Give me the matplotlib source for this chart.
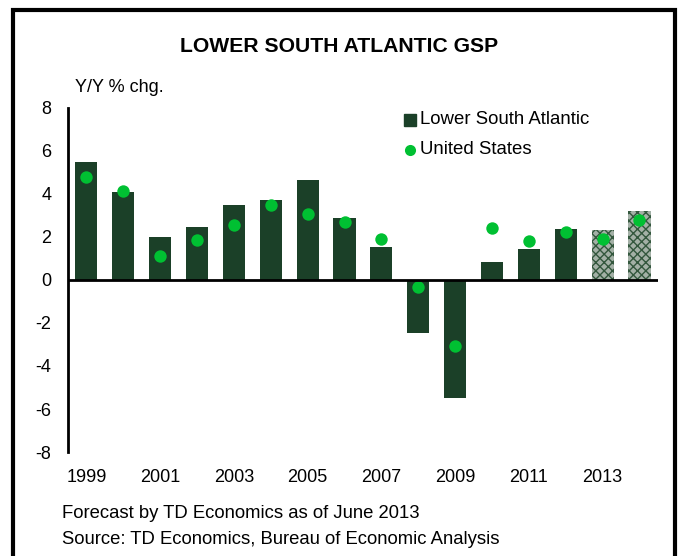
import matplotlib
matplotlib.use("Agg")
import matplotlib.pyplot as plt
from matplotlib.patches import Rectangle

plt.rcParams['font.family'] = ['Liberation Sans', 'DejaVu Sans']
plt.rcParams['axes.unicode_minus'] = False

# Données
annees = list(range(1999, 2015))
lower_south_atlantic = [5.5, 4.1, 2.0, 2.45, 3.5, 3.7, 4.65, 2.9, 1.55, -2.45, -5.5, 0.85, 1.45, 2.35, 2.3, 3.2]
etats_unis = [4.8, 4.15, 1.1, 1.85, 2.55, 3.5, 3.05, 2.7, 1.9, -0.35, -3.05, 2.4, 1.8, 2.25, 1.9, 2.8]
prevision = [False] * 14 + [True, True]
etiquettes_x = [str(a) if a % 2 == 1 else "" for a in annees]

vert_fonce = '#1b4028'
vert_point = '#00c032'

fig = plt.figure(figsize=(6.82, 5.56), dpi=100)
ax = fig.add_axes([0.0997, 0.187, 0.865, 0.619])

# Barres historiques et prévisions
for i, (a, v, p) in enumerate(zip(annees, lower_south_atlantic, prevision)):
    if p:
        ax.bar(i, v, width=0.6, color='#a3b0a6', edgecolor='#33573d', hatch='xxxx', linewidth=0)
    else:
        ax.bar(i, v, width=0.6, color=vert_fonce, linewidth=0)

ax.scatter(range(len(annees)), etats_unis, s=80, color=vert_point, zorder=3, linewidths=0)

ax.set_xlim(-0.5, len(annees) - 0.5)
ax.set_ylim(-8, 8)
ax.set_yticks(range(-8, 9, 2))
ax.set_xticks(range(len(annees)))
ax.set_xticklabels(etiquettes_x)
ax.tick_params(length=0, labelsize=13)
ax.tick_params(axis='x', pad=12)
ax.tick_params(axis='y', pad=12)

for s in ['top', 'right', 'bottom']:
    ax.spines[s].set_visible(False)
ax.spines['left'].set_linewidth(2)
ax.axhline(0, color='black', linewidth=2, zorder=4)

# Légende manuelle
fig.patches.append(Rectangle((404 / 682, 1 - 126 / 556), 12 / 682, 12 / 556,
                             transform=fig.transFigure, color=vert_fonce))
fig.text(420 / 682, 1 - 119 / 556, "Lower South Atlantic", fontsize=13.4, va='center')
fig.lines.append(plt.Line2D([410 / 682], [1 - 150 / 556], marker='o', markersize=8,
                            color=vert_point, markeredgewidth=0, transform=fig.transFigure))
fig.text(420 / 682, 1 - 150 / 556, "United States", fontsize=13.4, va='center')

# Titres et notes
fig.text(339 / 682, 1 - 46 / 556, "LOWER SOUTH ATLANTIC GSP", fontsize=15.2, weight='bold', ha='center', va='center')
fig.text(75 / 682, 1 - 88 / 556, "Y/Y % chg.", fontsize=13, va='center')
fig.text(62 / 682, 1 - 513 / 556, "Forecast by TD Economics as of June 2013", fontsize=13.3, va='center')
fig.text(62 / 682, 1 - 539 / 556, "Source: TD Economics, Bureau of Economic Analysis", fontsize=13.3, va='center')

# Cadre
fig.patches.append(Rectangle((13 / 682, -0.05), 662 / 682, 1.05 - 10 / 556,
                             transform=fig.transFigure, fill=False, edgecolor='black', linewidth=3))

fig.savefig('out.png', dpi=100)
